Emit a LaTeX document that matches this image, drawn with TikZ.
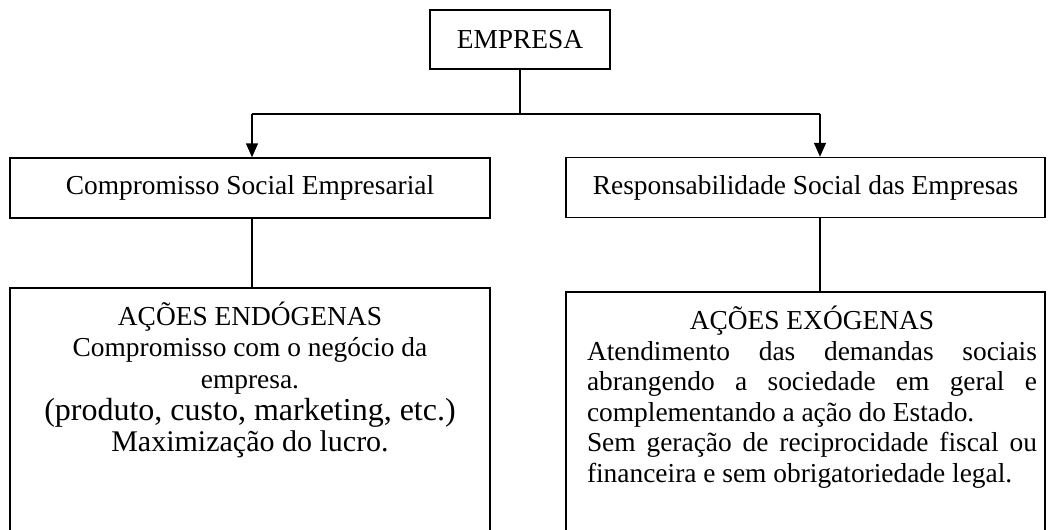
\documentclass[tikz,border=0pt]{standalone}
\usepackage{fontspec}
\setmainfont{Liberation Serif}
\usetikzlibrary{arrows.meta}

\begin{document}
\begin{tikzpicture}[x=1pt,y=-1pt,
    box/.style={draw,line width=1.5pt,inner sep=0pt,font=\fontsize{27.4}{30}\selectfont},
    link/.style={line width=1.5pt},
    arr/.style={link,-{Triangle[length=14pt,width=12pt]}}]
  \clip (0,0) rectangle (1052,530);
  \node[box,minimum width=180pt,minimum height=59pt] (emp) at (520,39.5) {EMPRESA};
  \node[box,minimum width=480pt,minimum height=60pt] (cse) at (250,188) {Compromisso Social Empresarial};
  \node[box,minimum width=479pt,minimum height=60pt] (rse) at (805.5,187.5) {Responsabilidade Social das Empresas};
  \node[box,anchor=north,inner xsep=10pt,inner ysep=13.8pt,font=\fontsize{27.4}{31.7}\selectfont] (endo) at (250,287)
    {\parbox[t][260pt][t]{460pt}{\centering\strut AÇÕES ENDÓGENAS\\
      Compromisso com o negócio da\\
      empresa.\\
      {\fontsize{32}{31.7}\selectfont (produto, custo, marketing, etc.)}\\
      {\fontsize{30}{31.7}\selectfont Maximização do lucro.}}};
  \node[box,anchor=north,inner xsep=0pt,inner ysep=14.6pt,font=\fontsize{27.4}{30.5}\selectfont] (exo) at (805.5,291)
    {\hspace*{21pt}\parbox[t][260pt][t]{450pt}{\makebox[\linewidth]{\strut AÇÕES EXÓGENAS}\\
      \makebox[\linewidth][s]{Atendimento das demandas sociais}\\
      \makebox[\linewidth][s]{abrangendo a sociedade em geral e}\\
      complementando a ação do Estado.\\
      \makebox[\linewidth][s]{Sem geração de reciprocidade fiscal ou}\\
      financeira e sem obrigatoriedade legal.}\hspace*{8pt}};

  % branching
  \coordinate (jm) at (520,114);
  \coordinate (jl) at (252,114);
  \coordinate (jr) at (820,114);
  \draw[link] (emp) -- (jm);
  \draw[link] (jl) -- (jr);
  \draw[arr] (jl) -- (jl |- cse.north);
  \draw[arr] (jr) -- (jr |- rse.north);
  \draw[link] (jl |- cse.south) -- (jl |- endo.north);
  \draw[link] (jr |- rse.south) -- (jr |- exo.north);
\end{tikzpicture}
\end{document}
